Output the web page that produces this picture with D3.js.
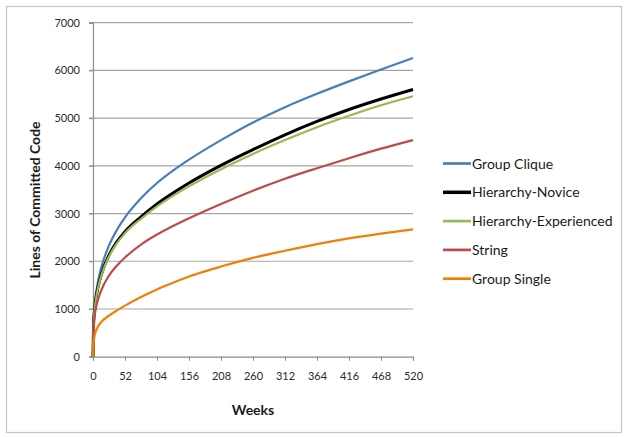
<!DOCTYPE html>
<html>
<head>
<meta charset="utf-8">
<script src="https://cdn.jsdelivr.net/npm/d3@7"></script>
<style>
  html, body { margin: 0; padding: 0; background: #fff; }
  svg { display: block; }
  text { font-family: Lato, "Open Sans", sans-serif; }
</style>
</head>
<body>
<svg id="chart" width="628" height="437"></svg>
<script>
const weeks = [0, 1, 2, 4, 8, 13, 26, 39, 52, 78, 104, 130, 156, 208, 260, 312, 364, 416, 468, 520];
const groupClique          = [0, 780, 980, 1240, 1570, 1850, 2330, 2660, 2920, 3320, 3640, 3900, 4130, 4540, 4910, 5230, 5510, 5770, 6020, 6260];
const hierarchyNovice      = [0, 700, 900, 1150, 1450, 1700, 2130, 2410, 2620, 2930, 3200, 3430, 3640, 4010, 4340, 4650, 4930, 5180, 5400, 5600];
const hierarchyExperienced = [0, 680, 880, 1130, 1430, 1680, 2100, 2380, 2590, 2890, 3150, 3370, 3570, 3930, 4250, 4540, 4810, 5050, 5270, 5460];
const stringSeries         = [0, 640, 790, 970, 1190, 1380, 1700, 1910, 2080, 2350, 2560, 2740, 2900, 3200, 3480, 3730, 3950, 4160, 4360, 4540];
const groupSingle          = [0, 300, 400, 510, 630, 720, 860, 970, 1070, 1250, 1410, 1550, 1680, 1890, 2070, 2220, 2360, 2480, 2580, 2670];

const seriesNames  = ["Group Clique", "Hierarchy-Novice", "Hierarchy-Experienced", "String", "Group Single"];
const seriesValues = [groupClique, hierarchyNovice, hierarchyExperienced, stringSeries, groupSingle];
const seriesColors = ["#4a7ebb", "#000000", "#98b954", "#be4b48", "#f07f09"];
const seriesWidths = [2.2, 3, 2.2, 2.2, 2.2];

const xTicks = [0, 52, 104, 156, 208, 260, 312, 364, 416, 468, 520];
const yTicks = [0, 1000, 2000, 3000, 4000, 5000, 6000, 7000];

const svg = d3.select("#chart");

// outer border
svg.append("rect")
  .attr("x", 6.5).attr("y", 6.5).attr("width", 615).attr("height", 426)
  .attr("fill", "#fff").attr("stroke", "#c4c4c4").attr("stroke-width", 1.2);

const x = d3.scaleLinear().domain([0, 520]).range([93, 413]);
const y = d3.scaleLinear().domain([0, 7000]).range([356.7, 22.7]);

// gridlines
svg.append("g").selectAll("line").data(yTicks.filter(d => d > 0)).join("line")
  .attr("x1", 89).attr("x2", x(520))
  .attr("y1", d => y(d)).attr("y2", d => y(d))
  .attr("stroke", "#a6a6a6").attr("stroke-width", 1.2);

// y axis
const yAxis = svg.append("g").attr("transform", `translate(${x(0)},0)`)
  .call(d3.axisLeft(y).tickValues(yTicks).tickSize(4).tickPadding(9).tickFormat(d3.format("d")));
yAxis.select(".domain").attr("stroke", "#8c8c8c").attr("stroke-width", 1.2);
yAxis.selectAll(".tick line").attr("stroke", "#8c8c8c");
yAxis.selectAll(".tick text").attr("font-size", 11).attr("fill", "#2a2a2a")
  .attr("font-family", "Lato, 'Open Sans', sans-serif");

// x axis
const xAxis = svg.append("g").attr("transform", `translate(0,${y(0)})`)
  .call(d3.axisBottom(x).tickValues(xTicks).tickSize(4).tickPadding(12).tickFormat(d3.format("d")));
xAxis.select(".domain").attr("stroke", "#8c8c8c").attr("stroke-width", 1.2);
xAxis.selectAll(".tick line").attr("stroke", "#8c8c8c");
xAxis.selectAll(".tick text").attr("font-size", 11).attr("fill", "#2a2a2a")
  .attr("font-family", "Lato, 'Open Sans', sans-serif");

// lines
const line = d3.line().x(d => x(d[0])).y(d => y(d[1])).curve(d3.curveMonotoneX);
seriesValues.forEach((vals, i) => {
  svg.append("path")
    .datum(weeks.map((w, j) => [w, vals[j]]))
    .attr("fill", "none")
    .attr("stroke", seriesColors[i])
    .attr("stroke-width", seriesWidths[i])
    .attr("stroke-linejoin", "round")
    .attr("d", line);
});

// axis titles
svg.append("text")
  .attr("transform", `translate(40,200) rotate(-90)`)
  .attr("text-anchor", "middle")
  .attr("font-size", 14).attr("font-weight", "bold").attr("fill", "#1a1a1a")
  .text("Lines of Committed Code");

svg.append("text")
  .attr("x", 253).attr("y", 415)
  .attr("text-anchor", "middle")
  .attr("font-size", 14).attr("font-weight", "bold").attr("fill", "#1a1a1a")
  .text("Weeks");

// legend
const legend = svg.append("g");
seriesNames.forEach((name, i) => {
  const ly = 163.5 + i * 28.8;
  legend.append("line")
    .attr("x1", 443).attr("x2", 471).attr("y1", ly).attr("y2", ly)
    .attr("stroke", seriesColors[i]).attr("stroke-width", seriesWidths[i] + 0.5);
  legend.append("text")
    .attr("x", 472).attr("y", ly + 5)
    .attr("font-size", 14).attr("fill", "#1a1a1a")
    .text(name);
});
</script>
</body>
</html>
